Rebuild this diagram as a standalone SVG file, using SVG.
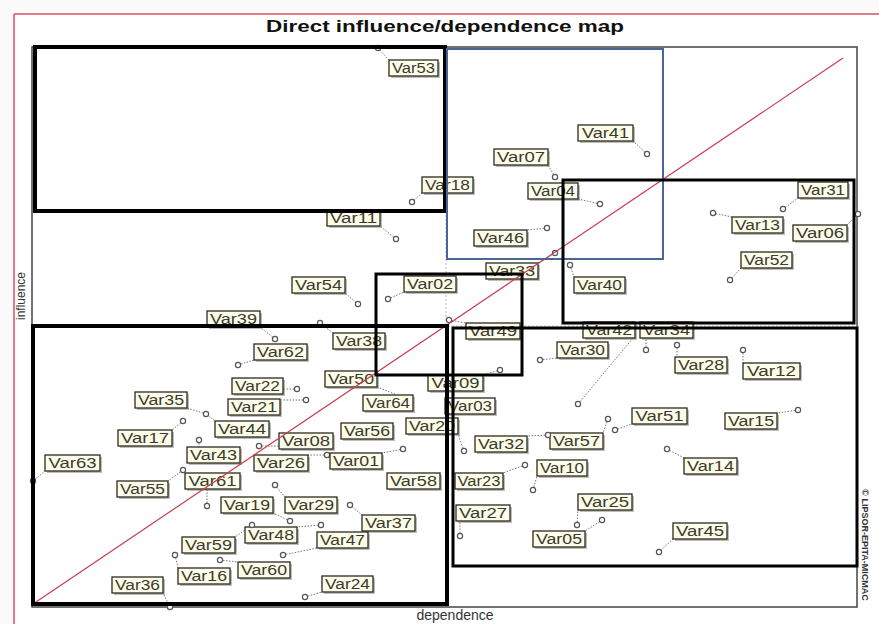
<svg xmlns="http://www.w3.org/2000/svg" width="879" height="624" viewBox="0 0 879 624">
<style>
.lb{fill:#fdfde9;stroke:#2a2a22;stroke-width:1.3}
.sh{fill:#8a8a80;opacity:0.55}
.lt{font-family:"Liberation Sans",Arial,sans-serif;font-size:14px;fill:#3a3a2e;text-anchor:middle}
.mk{fill:#fff;stroke:#555;stroke-width:1.2}
.ld{stroke:#777;stroke-width:1;stroke-dasharray:1.5 1.5;fill:none}
.bx{fill:none;stroke:#000}
</style>
<rect x="0" y="0" width="879" height="624" fill="#fafafa"/>
<rect x="14" y="14" width="866" height="612" fill="#fff"/>
<line x1="14" y1="14" x2="879" y2="14" stroke="#d0506a" stroke-width="1.5"/>
<line x1="14" y1="14" x2="14" y2="624" stroke="#d0506a" stroke-width="1.5"/>
<text x="445" y="32" font-family="'Liberation Sans',Arial,sans-serif" font-size="17" font-weight="bold" fill="#111" text-anchor="middle" textLength="358" lengthAdjust="spacingAndGlyphs">Direct influence/dependence map</text>
<rect x="32" y="47" width="825" height="560" fill="#fff" stroke="#444" stroke-width="1.5"/>
<line x1="446" y1="47" x2="446" y2="607" stroke="#bbb" stroke-width="1" stroke-dasharray="2 2"/>
<line x1="32" y1="326" x2="857" y2="326" stroke="#bbb" stroke-width="1" stroke-dasharray="2 2"/>
<text transform="translate(25,296) rotate(-90)" font-family="'Liberation Sans',Arial,sans-serif" font-size="12" fill="#333" text-anchor="middle">influence</text>
<text x="455" y="620" font-family="'Liberation Sans',Arial,sans-serif" font-size="14" fill="#333" text-anchor="middle">dependence</text>
<text transform="translate(862,545) rotate(90)" font-family="'Liberation Sans',Arial,sans-serif" font-size="9" font-weight="bold" fill="#333" text-anchor="middle">© LIPSOR-EPITA-MICMAC</text>

<g id="connectors">
<line class="ld" x1="378" y1="48" x2="389" y2="60"/>
<line class="ld" x1="412" y1="202" x2="422" y2="193"/>
<line class="ld" x1="555" y1="177" x2="548" y2="165"/>
<line class="ld" x1="600" y1="204" x2="578" y2="199"/>
<line class="ld" x1="647" y1="154" x2="633" y2="141"/>
<line class="ld" x1="783" y1="209" x2="798" y2="198"/>
<line class="ld" x1="713" y1="213" x2="732" y2="217"/>
<line class="ld" x1="858" y1="214" x2="847" y2="225"/>
<line class="ld" x1="730" y1="280" x2="741" y2="268"/>
<line class="ld" x1="570" y1="265" x2="574" y2="277"/>
<line class="ld" x1="547" y1="228" x2="527" y2="230"/>
<line class="ld" x1="555" y1="253" x2="538" y2="263"/>
<line class="ld" x1="396" y1="239" x2="380" y2="226"/>
<line class="ld" x1="358" y1="304" x2="345" y2="293"/>
<line class="ld" x1="388" y1="299" x2="404" y2="292"/>
<line class="ld" x1="449" y1="320" x2="466" y2="323"/>
<line class="ld" x1="500" y1="370" x2="483" y2="375"/>
<line class="ld" x1="275" y1="339" x2="260" y2="327"/>
<line class="ld" x1="238" y1="365" x2="254" y2="360"/>
<line class="ld" x1="320" y1="323" x2="333" y2="333"/>
<line class="ld" x1="540" y1="360" x2="557" y2="358"/>
<line class="ld" x1="578" y1="404" x2="633" y2="338"/>
<line class="ld" x1="646" y1="350" x2="646" y2="338"/>
<line class="ld" x1="677" y1="345" x2="677" y2="357"/>
<line class="ld" x1="743" y1="350" x2="743" y2="363"/>
<line class="ld" x1="798" y1="410" x2="777" y2="413"/>
<line class="ld" x1="615" y1="430" x2="632" y2="424"/>
<line class="ld" x1="608" y1="419" x2="603" y2="433"/>
<line class="ld" x1="548" y1="435" x2="527" y2="436"/>
<line class="ld" x1="533" y1="490" x2="537" y2="476"/>
<line class="ld" x1="525" y1="465" x2="503" y2="473"/>
<line class="ld" x1="460" y1="536" x2="460" y2="521"/>
<line class="ld" x1="602" y1="520" x2="585" y2="531"/>
<line class="ld" x1="577" y1="525" x2="578" y2="510"/>
<line class="ld" x1="667" y1="449" x2="684" y2="458"/>
<line class="ld" x1="659" y1="552" x2="673" y2="539"/>
<line class="ld" x1="377" y1="387" x2="395" y2="394"/>
<line class="ld" x1="297" y1="389" x2="283" y2="389"/>
<line class="ld" x1="306" y1="400" x2="280" y2="400"/>
<line class="ld" x1="206" y1="414" x2="215" y2="421"/>
<line class="ld" x1="206" y1="414" x2="187" y2="408"/>
<line class="ld" x1="183" y1="421" x2="172" y2="430"/>
<line class="ld" x1="199" y1="440" x2="199" y2="447"/>
<line class="ld" x1="327" y1="455" x2="308" y2="455"/>
<line class="ld" x1="259" y1="446" x2="279" y2="446"/>
<line class="ld" x1="403" y1="449" x2="382" y2="453"/>
<line class="ld" x1="33" y1="481" x2="45" y2="471"/>
<line class="ld" x1="183" y1="470" x2="168" y2="481"/>
<line class="ld" x1="207" y1="506" x2="207" y2="489"/>
<line class="ld" x1="290" y1="521" x2="273" y2="513"/>
<line class="ld" x1="275" y1="485" x2="285" y2="497"/>
<line class="ld" x1="350" y1="505" x2="362" y2="515"/>
<line class="ld" x1="321" y1="525" x2="297" y2="527"/>
<line class="ld" x1="283" y1="555" x2="317" y2="548"/>
<line class="ld" x1="252" y1="525" x2="235" y2="537"/>
<line class="ld" x1="175" y1="555" x2="178" y2="568"/>
<line class="ld" x1="220" y1="560" x2="238" y2="562"/>
<line class="ld" x1="305" y1="597" x2="322" y2="592"/>
<line class="ld" x1="170" y1="607" x2="163" y2="593"/>
<line class="ld" x1="464" y1="451" x2="458" y2="434"/>
</g>

<g id="nodes">
<g id="var53"><rect class="sh" x="391" y="62" width="49" height="16"/><rect class="lb" x="389" y="60" width="49" height="16"/><text class="lt" x="413.5" y="73" textLength="43" lengthAdjust="spacingAndGlyphs">Var53</text><circle class="mk" cx="378" cy="48" r="2.6"/></g>
<g id="var18"><rect class="sh" x="424" y="179" width="51" height="16"/><rect class="lb" x="422" y="177" width="51" height="16"/><text class="lt" x="447.5" y="190" textLength="45" lengthAdjust="spacingAndGlyphs">Var18</text><circle class="mk" cx="412" cy="202" r="2.6"/></g>
<g id="var07"><rect class="sh" x="496" y="151" width="54" height="16"/><rect class="lb" x="494" y="149" width="54" height="16"/><text class="lt" x="521" y="162" textLength="48" lengthAdjust="spacingAndGlyphs">Var07</text><circle class="mk" cx="555" cy="177" r="2.6"/></g>
<g id="var04"><rect class="sh" x="530" y="185" width="50" height="16"/><rect class="lb" x="528" y="183" width="50" height="16"/><text class="lt" x="553" y="196" textLength="44" lengthAdjust="spacingAndGlyphs">Var04</text><circle class="mk" cx="600" cy="204" r="2.6"/></g>
<g id="var41"><rect class="sh" x="580" y="127" width="55" height="16"/><rect class="lb" x="578" y="125" width="55" height="16"/><text class="lt" x="605.5" y="138" textLength="47" lengthAdjust="spacingAndGlyphs">Var41</text><circle class="mk" cx="647" cy="154" r="2.6"/></g>
<g id="var31"><rect class="sh" x="800" y="184" width="50" height="16"/><rect class="lb" x="798" y="182" width="50" height="16"/><text class="lt" x="823" y="195" textLength="44" lengthAdjust="spacingAndGlyphs">Var31</text><circle class="mk" cx="783" cy="209" r="2.6"/></g>
<g id="var13"><rect class="sh" x="734" y="219" width="51" height="16"/><rect class="lb" x="732" y="217" width="51" height="16"/><text class="lt" x="757.5" y="230" textLength="45" lengthAdjust="spacingAndGlyphs">Var13</text><circle class="mk" cx="713" cy="213" r="2.6"/></g>
<g id="var06"><rect class="sh" x="795" y="227" width="54" height="16"/><rect class="lb" x="793" y="225" width="54" height="16"/><text class="lt" x="820" y="238" textLength="48" lengthAdjust="spacingAndGlyphs">Var06</text><circle class="mk" cx="858" cy="214" r="2.6"/></g>
<g id="var52"><rect class="sh" x="743" y="254" width="51" height="16"/><rect class="lb" x="741" y="252" width="51" height="16"/><text class="lt" x="766.5" y="265" textLength="45" lengthAdjust="spacingAndGlyphs">Var52</text><circle class="mk" cx="730" cy="280" r="2.6"/></g>
<g id="var40"><rect class="sh" x="576" y="279" width="51" height="16"/><rect class="lb" x="574" y="277" width="51" height="16"/><text class="lt" x="599.5" y="290" textLength="45" lengthAdjust="spacingAndGlyphs">Var40</text><circle class="mk" cx="570" cy="265" r="2.6"/></g>
<g id="var46"><rect class="sh" x="476" y="232" width="53" height="16"/><rect class="lb" x="474" y="230" width="53" height="16"/><text class="lt" x="500.5" y="243" textLength="47" lengthAdjust="spacingAndGlyphs">Var46</text><circle class="mk" cx="547" cy="228" r="2.6"/></g>
<g id="var33"><rect class="sh" x="488" y="265" width="52" height="16"/><rect class="lb" x="486" y="263" width="52" height="16"/><text class="lt" x="512" y="276" textLength="46" lengthAdjust="spacingAndGlyphs">Var33</text><circle class="mk" cx="555" cy="253" r="2.6"/></g>
<g id="var11"><rect class="sh" x="329" y="212" width="53" height="16"/><rect class="lb" x="327" y="210" width="53" height="16"/><text class="lt" x="353.5" y="223" textLength="47" lengthAdjust="spacingAndGlyphs">Var11</text><circle class="mk" cx="396" cy="239" r="2.6"/></g>
<g id="var54"><rect class="sh" x="294" y="279" width="53" height="16"/><rect class="lb" x="292" y="277" width="53" height="16"/><text class="lt" x="318.5" y="290" textLength="47" lengthAdjust="spacingAndGlyphs">Var54</text><circle class="mk" cx="358" cy="304" r="2.6"/></g>
<g id="var02"><rect class="sh" x="406" y="278" width="52" height="16"/><rect class="lb" x="404" y="276" width="52" height="16"/><text class="lt" x="430" y="289" textLength="46" lengthAdjust="spacingAndGlyphs">Var02</text><circle class="mk" cx="388" cy="299" r="2.6"/></g>
<g id="var49"><rect class="sh" x="468" y="325" width="54" height="16"/><rect class="lb" x="466" y="323" width="54" height="16"/><text class="lt" x="493" y="336" textLength="48" lengthAdjust="spacingAndGlyphs">Var49</text><circle class="mk" cx="449" cy="320" r="2.6"/></g>
<g id="var09"><rect class="sh" x="430" y="377" width="55" height="16"/><rect class="lb" x="428" y="375" width="55" height="16"/><text class="lt" x="455.5" y="388" textLength="48" lengthAdjust="spacingAndGlyphs">Var09</text><circle class="mk" cx="500" cy="370" r="2.6"/></g>
<g id="var03"><rect class="sh" x="447" y="400" width="50" height="16"/><rect class="lb" x="445" y="398" width="50" height="16"/><text class="lt" x="470" y="411" textLength="44" lengthAdjust="spacingAndGlyphs">Var03</text></g>
<g id="var39"><rect class="sh" x="209" y="313" width="53" height="16"/><rect class="lb" x="207" y="311" width="53" height="16"/><text class="lt" x="233.5" y="324" textLength="47" lengthAdjust="spacingAndGlyphs">Var39</text><circle class="mk" cx="275" cy="339" r="2.6"/></g>
<g id="var62"><rect class="sh" x="256" y="346" width="53" height="16"/><rect class="lb" x="254" y="344" width="53" height="16"/><text class="lt" x="280.5" y="357" textLength="47" lengthAdjust="spacingAndGlyphs">Var62</text><circle class="mk" cx="238" cy="365" r="2.6"/></g>
<g id="var38"><rect class="sh" x="335" y="335" width="52" height="16"/><rect class="lb" x="333" y="333" width="52" height="16"/><text class="lt" x="359" y="346" textLength="46" lengthAdjust="spacingAndGlyphs">Var38</text><circle class="mk" cx="320" cy="323" r="2.6"/></g>
<g id="var30"><rect class="sh" x="559" y="344" width="51" height="16"/><rect class="lb" x="557" y="342" width="51" height="16"/><text class="lt" x="582.5" y="355" textLength="45" lengthAdjust="spacingAndGlyphs">Var30</text><circle class="mk" cx="540" cy="360" r="2.6"/></g>
<g id="var42"><rect class="sh" x="585" y="324" width="52" height="16"/><rect class="lb" x="583" y="322" width="52" height="16"/><text class="lt" x="609" y="335" textLength="46" lengthAdjust="spacingAndGlyphs">Var42</text><circle class="mk" cx="578" cy="404" r="2.6"/></g>
<g id="var34"><rect class="sh" x="642" y="324" width="53" height="16"/><rect class="lb" x="640" y="322" width="53" height="16"/><text class="lt" x="666.5" y="335" textLength="47" lengthAdjust="spacingAndGlyphs">Var34</text><circle class="mk" cx="646" cy="350" r="2.6"/></g>
<g id="var28"><rect class="sh" x="677" y="359" width="52" height="16"/><rect class="lb" x="675" y="357" width="52" height="16"/><text class="lt" x="701" y="370" textLength="46" lengthAdjust="spacingAndGlyphs">Var28</text><circle class="mk" cx="677" cy="345" r="2.6"/></g>
<g id="var12"><rect class="sh" x="745" y="365" width="57" height="16"/><rect class="lb" x="743" y="363" width="57" height="16"/><text class="lt" x="771.5" y="376" textLength="49" lengthAdjust="spacingAndGlyphs">Var12</text><circle class="mk" cx="743" cy="350" r="2.6"/></g>
<g id="var15"><rect class="sh" x="727" y="415" width="52" height="16"/><rect class="lb" x="725" y="413" width="52" height="16"/><text class="lt" x="751" y="426" textLength="46" lengthAdjust="spacingAndGlyphs">Var15</text><circle class="mk" cx="798" cy="410" r="2.6"/></g>
<g id="var51"><rect class="sh" x="634" y="410" width="55" height="16"/><rect class="lb" x="632" y="408" width="55" height="16"/><text class="lt" x="659.5" y="421" textLength="48" lengthAdjust="spacingAndGlyphs">Var51</text><circle class="mk" cx="615" cy="430" r="2.6"/></g>
<g id="var57"><rect class="sh" x="552" y="435" width="53" height="16"/><rect class="lb" x="550" y="433" width="53" height="16"/><text class="lt" x="576.5" y="446" textLength="47" lengthAdjust="spacingAndGlyphs">Var57</text><circle class="mk" cx="608" cy="419" r="2.6"/></g>
<g id="var32"><rect class="sh" x="477" y="438" width="52" height="16"/><rect class="lb" x="475" y="436" width="52" height="16"/><text class="lt" x="501" y="449" textLength="46" lengthAdjust="spacingAndGlyphs">Var32</text><circle class="mk" cx="548" cy="435" r="2.6"/></g>
<g id="var10"><rect class="sh" x="539" y="462" width="50" height="16"/><rect class="lb" x="537" y="460" width="50" height="16"/><text class="lt" x="562" y="473" textLength="44" lengthAdjust="spacingAndGlyphs">Var10</text><circle class="mk" cx="533" cy="490" r="2.6"/></g>
<g id="var23"><rect class="sh" x="457" y="475" width="48" height="16"/><rect class="lb" x="455" y="473" width="48" height="16"/><text class="lt" x="479" y="486" textLength="43" lengthAdjust="spacingAndGlyphs">Var23</text><circle class="mk" cx="525" cy="465" r="2.6"/></g>
<g id="var27"><rect class="sh" x="458" y="507" width="54" height="16"/><rect class="lb" x="456" y="505" width="54" height="16"/><text class="lt" x="483" y="518" textLength="48" lengthAdjust="spacingAndGlyphs">Var27</text><circle class="mk" cx="460" cy="536" r="2.6"/></g>
<g id="var05"><rect class="sh" x="535" y="533" width="52" height="16"/><rect class="lb" x="533" y="531" width="52" height="16"/><text class="lt" x="559" y="544" textLength="46" lengthAdjust="spacingAndGlyphs">Var05</text><circle class="mk" cx="602" cy="520" r="2.6"/></g>
<g id="var25"><rect class="sh" x="580" y="496" width="54" height="16"/><rect class="lb" x="578" y="494" width="54" height="16"/><text class="lt" x="605" y="507" textLength="48" lengthAdjust="spacingAndGlyphs">Var25</text><circle class="mk" cx="577" cy="525" r="2.6"/></g>
<g id="var14"><rect class="sh" x="686" y="460" width="53" height="16"/><rect class="lb" x="684" y="458" width="53" height="16"/><text class="lt" x="710.5" y="471" textLength="47" lengthAdjust="spacingAndGlyphs">Var14</text><circle class="mk" cx="667" cy="449" r="2.6"/></g>
<g id="var45"><rect class="sh" x="675" y="525" width="54" height="16"/><rect class="lb" x="673" y="523" width="54" height="16"/><text class="lt" x="700" y="536" textLength="48" lengthAdjust="spacingAndGlyphs">Var45</text><circle class="mk" cx="659" cy="552" r="2.6"/></g>
<g id="var50"><rect class="sh" x="327" y="373" width="52" height="16"/><rect class="lb" x="325" y="371" width="52" height="16"/><text class="lt" x="351" y="384" textLength="46" lengthAdjust="spacingAndGlyphs">Var50</text></g>
<g id="var64"><rect class="sh" x="365" y="397" width="50" height="16"/><rect class="lb" x="363" y="395" width="50" height="16"/><text class="lt" x="388" y="408" textLength="44" lengthAdjust="spacingAndGlyphs">Var64</text></g>
<g id="var22"><rect class="sh" x="234" y="380" width="51" height="16"/><rect class="lb" x="232" y="378" width="51" height="16"/><text class="lt" x="257.5" y="391" textLength="45" lengthAdjust="spacingAndGlyphs">Var22</text><circle class="mk" cx="297" cy="389" r="2.6"/></g>
<g id="var21"><rect class="sh" x="230" y="401" width="52" height="16"/><rect class="lb" x="228" y="399" width="52" height="16"/><text class="lt" x="254" y="412" textLength="46" lengthAdjust="spacingAndGlyphs">Var21</text><circle class="mk" cx="306" cy="400" r="2.6"/></g>
<g id="var44"><rect class="sh" x="217" y="423" width="54" height="16"/><rect class="lb" x="215" y="421" width="54" height="16"/><text class="lt" x="242" y="434" textLength="48" lengthAdjust="spacingAndGlyphs">Var44</text></g>
<g id="var35"><rect class="sh" x="137" y="394" width="52" height="16"/><rect class="lb" x="135" y="392" width="52" height="16"/><text class="lt" x="161" y="405" textLength="46" lengthAdjust="spacingAndGlyphs">Var35</text><circle class="mk" cx="206" cy="414" r="2.6"/></g>
<g id="var17"><rect class="sh" x="120" y="432" width="54" height="16"/><rect class="lb" x="118" y="430" width="54" height="16"/><text class="lt" x="145" y="443" textLength="48" lengthAdjust="spacingAndGlyphs">Var17</text><circle class="mk" cx="183" cy="421" r="2.6"/></g>
<g id="var43"><rect class="sh" x="189" y="449" width="53" height="16"/><rect class="lb" x="187" y="447" width="53" height="16"/><text class="lt" x="213.5" y="460" textLength="47" lengthAdjust="spacingAndGlyphs">Var43</text><circle class="mk" cx="199" cy="440" r="2.6"/></g>
<g id="var26"><rect class="sh" x="256" y="457" width="54" height="16"/><rect class="lb" x="254" y="455" width="54" height="16"/><text class="lt" x="281" y="468" textLength="48" lengthAdjust="spacingAndGlyphs">Var26</text><circle class="mk" cx="327" cy="455" r="2.6"/></g>
<g id="var08"><rect class="sh" x="281" y="435" width="54" height="16"/><rect class="lb" x="279" y="433" width="54" height="16"/><text class="lt" x="306" y="446" textLength="48" lengthAdjust="spacingAndGlyphs">Var08</text><circle class="mk" cx="259" cy="446" r="2.6"/></g>
<g id="var56"><rect class="sh" x="343" y="425" width="52" height="16"/><rect class="lb" x="341" y="423" width="52" height="16"/><text class="lt" x="367" y="436" textLength="46" lengthAdjust="spacingAndGlyphs">Var56</text></g>
<g id="var01"><rect class="sh" x="332" y="455" width="52" height="16"/><rect class="lb" x="330" y="453" width="52" height="16"/><text class="lt" x="356" y="466" textLength="46" lengthAdjust="spacingAndGlyphs">Var01</text><circle class="mk" cx="403" cy="449" r="2.6"/></g>
<g id="var58"><rect class="sh" x="389" y="475" width="53" height="16"/><rect class="lb" x="387" y="473" width="53" height="16"/><text class="lt" x="413.5" y="486" textLength="47" lengthAdjust="spacingAndGlyphs">Var58</text></g>
<g id="var63"><rect class="sh" x="47" y="457" width="55" height="16"/><rect class="lb" x="45" y="455" width="55" height="16"/><text class="lt" x="72.5" y="468" textLength="48" lengthAdjust="spacingAndGlyphs">Var63</text><circle class="mk" cx="33" cy="481" r="2.6"/></g>
<g id="var55"><rect class="sh" x="119" y="483" width="51" height="16"/><rect class="lb" x="117" y="481" width="51" height="16"/><text class="lt" x="142.5" y="494" textLength="45" lengthAdjust="spacingAndGlyphs">Var55</text><circle class="mk" cx="183" cy="470" r="2.6"/></g>
<g id="var61"><rect class="sh" x="187" y="475" width="55" height="16"/><rect class="lb" x="185" y="473" width="55" height="16"/><text class="lt" x="212.5" y="486" textLength="48" lengthAdjust="spacingAndGlyphs">Var61</text><circle class="mk" cx="207" cy="506" r="2.6"/></g>
<g id="var19"><rect class="sh" x="223" y="499" width="52" height="16"/><rect class="lb" x="221" y="497" width="52" height="16"/><text class="lt" x="247" y="510" textLength="46" lengthAdjust="spacingAndGlyphs">Var19</text><circle class="mk" cx="290" cy="521" r="2.6"/></g>
<g id="var29"><rect class="sh" x="287" y="499" width="52" height="16"/><rect class="lb" x="285" y="497" width="52" height="16"/><text class="lt" x="311" y="510" textLength="46" lengthAdjust="spacingAndGlyphs">Var29</text><circle class="mk" cx="275" cy="485" r="2.6"/></g>
<g id="var37"><rect class="sh" x="364" y="517" width="53" height="16"/><rect class="lb" x="362" y="515" width="53" height="16"/><text class="lt" x="388.5" y="528" textLength="47" lengthAdjust="spacingAndGlyphs">Var37</text><circle class="mk" cx="350" cy="505" r="2.6"/></g>
<g id="var48"><rect class="sh" x="247" y="529" width="52" height="16"/><rect class="lb" x="245" y="527" width="52" height="16"/><text class="lt" x="271" y="540" textLength="46" lengthAdjust="spacingAndGlyphs">Var48</text><circle class="mk" cx="321" cy="525" r="2.6"/></g>
<g id="var47"><rect class="sh" x="319" y="534" width="51" height="16"/><rect class="lb" x="317" y="532" width="51" height="16"/><text class="lt" x="342.5" y="545" textLength="45" lengthAdjust="spacingAndGlyphs">Var47</text><circle class="mk" cx="283" cy="555" r="2.6"/></g>
<g id="var59"><rect class="sh" x="184" y="539" width="53" height="16"/><rect class="lb" x="182" y="537" width="53" height="16"/><text class="lt" x="208.5" y="550" textLength="47" lengthAdjust="spacingAndGlyphs">Var59</text><circle class="mk" cx="252" cy="525" r="2.6"/></g>
<g id="var16"><rect class="sh" x="180" y="570" width="52" height="16"/><rect class="lb" x="178" y="568" width="52" height="16"/><text class="lt" x="204" y="581" textLength="46" lengthAdjust="spacingAndGlyphs">Var16</text><circle class="mk" cx="175" cy="555" r="2.6"/></g>
<g id="var60"><rect class="sh" x="240" y="564" width="52" height="16"/><rect class="lb" x="238" y="562" width="52" height="16"/><text class="lt" x="264" y="575" textLength="46" lengthAdjust="spacingAndGlyphs">Var60</text><circle class="mk" cx="220" cy="560" r="2.6"/></g>
<g id="var24"><rect class="sh" x="324" y="578" width="51" height="16"/><rect class="lb" x="322" y="576" width="51" height="16"/><text class="lt" x="347.5" y="589" textLength="45" lengthAdjust="spacingAndGlyphs">Var24</text><circle class="mk" cx="305" cy="597" r="2.6"/></g>
<g id="var36"><rect class="sh" x="114" y="579" width="51" height="16"/><rect class="lb" x="112" y="577" width="51" height="16"/><text class="lt" x="137.5" y="590" textLength="45" lengthAdjust="spacingAndGlyphs">Var36</text><circle class="mk" cx="170" cy="607" r="2.6"/></g>
<g id="var20"><rect class="sh" x="408" y="420" width="52" height="16"/><rect class="lb" x="406" y="418" width="52" height="16"/><text class="lt" x="432" y="431" textLength="46" lengthAdjust="spacingAndGlyphs">Var20</text><circle class="mk" cx="464" cy="451" r="2.6"/></g>
</g>

<g id="overlay">
<line x1="33" y1="604" x2="843" y2="58" stroke="#c83c50" stroke-width="1.2"/>
<rect class="bx" x="35" y="47" width="410" height="164" stroke-width="4"/>
<rect x="447" y="49" width="216" height="210" fill="none" stroke="#4a6596" stroke-width="2"/>
<rect class="bx" x="563" y="180" width="291" height="143" stroke-width="3"/>
<rect class="bx" x="376" y="274" width="146" height="101" stroke-width="3"/>
<rect class="bx" x="33" y="326" width="414" height="278" stroke-width="4"/>
<rect class="bx" x="453" y="328" width="404" height="238" stroke-width="3"/>
</g>
</svg>
